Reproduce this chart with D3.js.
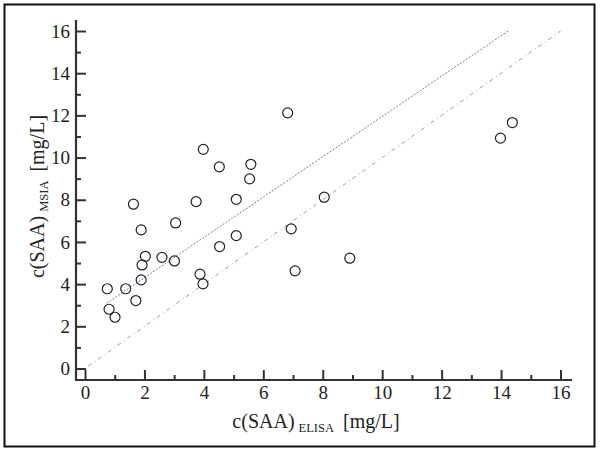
<!DOCTYPE html>
<html>
<head>
<meta charset="utf-8">
<script src="https://cdn.jsdelivr.net/npm/d3@7"></script>
<style>
    body { margin: 0; background: #fff; }
    svg text { font-family: 'Liberation Serif', 'DejaVu Serif', serif; fill: #222; }
</style>
</head>
<body>
<div id="chart"></div>
<script>
// Values
const elisa = [0.75, 0.81, 1.01, 1.37, 1.71, 1.63, 1.89, 1.89, 1.92, 2.03,
               2.59, 3.01, 3.05, 3.74, 3.87, 3.97, 4.53, 5.09, 5.09, 6.94,
               7.07, 6.82, 3.98, 4.52, 5.58, 5.54, 8.05, 8.91, 14.38, 13.98];
const msia = [3.78, 2.81, 2.43, 3.78, 3.22, 7.79, 6.57, 4.20, 4.91, 5.32,
              5.27, 5.10, 6.90, 7.91, 4.47, 4.01, 5.78, 8.02, 6.30, 6.62,
              4.63, 12.12, 10.39, 9.56, 9.68, 8.99, 8.12, 5.23, 11.66, 10.92];
const fitLine = [[0.73, 3.09], [14.24, 16.0]];   // regression (blue)
const identityLine = [[0, 0], [16, 16]];        // y = x (red)
const majorTicks = [0, 2, 4, 6, 8, 10, 12, 14, 16];
const minorTicks = [1, 3, 5, 7, 9, 11, 13, 15];

const width = 601, height = 452;
const serif = "'Liberation Serif', 'DejaVu Serif', serif";

const svg = d3.select('#chart')
    .append('svg')
    .attr('width', width)
    .attr('height', height)
    .attr('font-family', serif);

// outer frame
svg.append('rect')
    .attr('x', 4.5).attr('y', 4.5)
    .attr('width', 590).attr('height', 442)
    .attr('fill', 'none')
    .attr('stroke', '#111')
    .attr('stroke-width', 2);

const x = d3.scaleLinear().domain([0, 16]).range([85, 560.5]);
const y = d3.scaleLinear().domain([0, 16]).range([368.5, 31]);

const axisX = 76, axisY = 380;

// reference lines
const line = d3.line().x(d => x(d[0])).y(d => y(d[1]));

svg.append('path')
    .datum(identityLine)
    .attr('d', line)
    .attr('fill', 'none')
    .attr('stroke', '#c088a4')
    .attr('stroke-width', 1)
    .attr('stroke-dasharray', '1,3,4,4');

svg.append('path')
    .datum(fitLine)
    .attr('d', line)
    .attr('fill', 'none')
    .attr('stroke', '#7878b8')
    .attr('stroke-width', 1)
    .attr('stroke-dasharray', '2,1.5');

// axes
const gx = svg.append('g').attr('transform', `translate(0,${axisY})`);
gx.call(d3.axisBottom(x).tickValues(majorTicks).tickSize(-10).tickPadding(5.5).tickFormat(d3.format('d')));
const gxMinor = svg.append('g').attr('transform', `translate(0,${axisY})`);
gxMinor.call(d3.axisBottom(x).tickValues(minorTicks).tickSize(-5).tickFormat(''));

const gy = svg.append('g').attr('transform', `translate(${axisX},0)`);
gy.call(d3.axisLeft(y).tickValues(majorTicks).tickSize(-10).tickPadding(6).tickFormat(d3.format('d')));
const gyMinor = svg.append('g').attr('transform', `translate(${axisX},0)`);
gyMinor.call(d3.axisLeft(y).tickValues(minorTicks).tickSize(-5).tickFormat(''));

[gx, gxMinor, gy, gyMinor].forEach(g => {
    g.attr('font-family', serif).attr('font-size', 19);
    g.select('.domain').remove();
    g.selectAll('line').attr('stroke', '#333').attr('stroke-width', 2);
    g.selectAll('text').attr('fill', '#222');
});

svg.append('path')
    .attr('d', `M${axisX},20V${axisY}H572`)
    .attr('fill', 'none')
    .attr('stroke', '#333')
    .attr('stroke-width', 2.2);

// points
svg.append('g')
    .selectAll('circle')
    .data(elisa.map((d, i) => [d, msia[i]]))
    .join('circle')
    .attr('cx', d => x(d[0]))
    .attr('cy', d => y(d[1]))
    .attr('r', 5)
    .attr('fill', 'none')
    .attr('stroke', '#222')
    .attr('stroke-width', 1.2);

// axis titles
function addTitle(g, sub) {
    g.append('tspan').text('c(SAA)');
    g.append('tspan').attr('dx', 4).attr('dy', 4).attr('font-size', 12.5).text(sub);
    g.append('tspan').attr('dx', 9).attr('dy', -4).text('[mg/L]');
}

const xt = svg.append('text')
    .attr('x', 316).attr('y', 428)
    .attr('text-anchor', 'middle')
    .attr('font-size', 20);
addTitle(xt, 'ELISA');

const yt = svg.append('text')
    .attr('transform', 'translate(44,196.5) rotate(-90)')
    .attr('text-anchor', 'middle')
    .attr('font-size', 20);
addTitle(yt, 'MSIA');
</script>
</body>
</html>
